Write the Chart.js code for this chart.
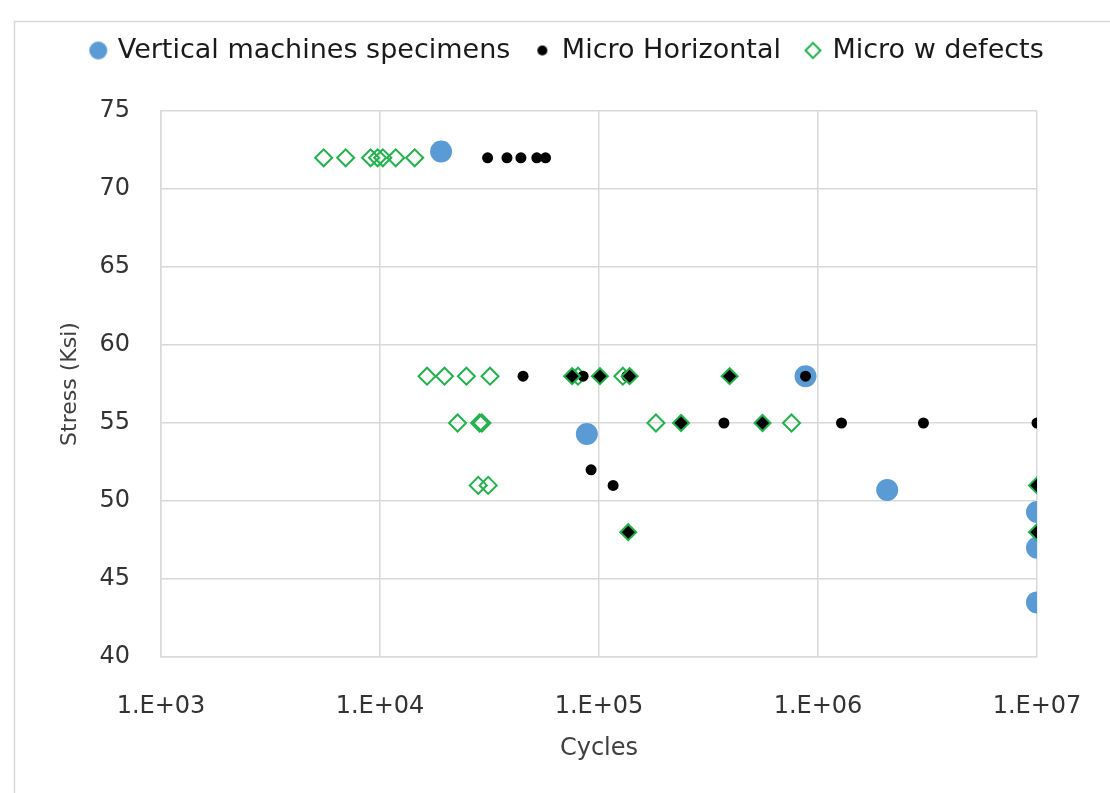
<!DOCTYPE html>
<html>
<head>
<meta charset="utf-8">
<script src="https://cdn.jsdelivr.net/npm/chart.js@4.4.1/dist/chart.umd.min.js"></script>
<style>
  html, body { margin: 0; padding: 0; background: #fff; }
  #wrap { width: 1110px; height: 793px; }
</style>
</head>
<body>
<div id="wrap"><canvas id="snChart" width="1110" height="793"></canvas></div>
<script>
// Vertical machines specimens
const verticalX = [19000, 88000, 877000, 2070000, 10000000, 10000000, 10000000];
const verticalY = [72.4, 54.3, 58.0, 50.7, 49.3, 47.0, 43.5];

// Micro Horizontal
const horizX = [31000, 38000, 44000, 52000, 57000, 45000, 84600, 134000, 877000, 92000, 116000, 372000, 1280000, 3030000, 10000000];
const horizY = [72, 72, 72, 72, 72, 58, 58, 58, 58, 52, 51, 55, 55, 55, 55];

// Micro w defects (open markers)
const defectsX = [5530, 6970, 9060, 9750, 10300, 11800, 14400,
                  16400, 19700, 24800, 31800, 80200, 128500,
                  22600, 28500, 29200, 182000, 757000,
                  28100, 31200];
const defectsY = [72, 72, 72, 72, 72, 72, 72,
                  58, 58, 58, 58, 58, 58,
                  55, 55, 55, 55, 55,
                  51, 51];

// Micro w defects (markers drawn filled)
const defectsFilledX = [75400, 101000, 138000, 395000, 237000, 558000, 136000, 10000000, 10000000];
const defectsFilledY = [58, 58, 58, 58, 55, 55, 48, 51, 48];

const xTickValues = [1e3, 1e4, 1e5, 1e6, 1e7];
const xTickLabels = ['1.E+03', '1.E+04', '1.E+05', '1.E+06', '1.E+07'];

const toPoints = (xs, ys) => xs.map((x, i) => ({ x: x, y: ys[i] }));

const BLUE = '#5b9bd5';
const GREEN = '#22b14c';
const FONT = 'DejaVu Sans';

// small canvases so legend markers keep their own sizes
function legendMarker(style, radius, fill, stroke, lw) {
  const c = document.createElement('canvas');
  c.width = 24; c.height = 24;
  const ctx = c.getContext('2d');
  ctx.fillStyle = fill;
  ctx.strokeStyle = stroke;
  ctx.lineWidth = lw;
  Chart.helpers.drawPoint(ctx, { pointStyle: style, radius: radius, rotation: 0, borderWidth: lw }, 12, 12);
  return c;
}

const frame = {
  id: 'frame',
  beforeDraw(chart) {
    const ctx = chart.ctx;
    ctx.save();
    ctx.fillStyle = '#fff';
    ctx.fillRect(0, 0, chart.width, chart.height);
    ctx.strokeStyle = '#d9d9d9';
    ctx.lineWidth = 1.5;
    ctx.beginPath();
    ctx.moveTo(14.5, chart.height);
    ctx.lineTo(14.5, 21.5);
    ctx.lineTo(chart.width, 21.5);
    ctx.stroke();
    ctx.restore();
  }
};

const ctx = document.getElementById('snChart').getContext('2d');
new Chart(ctx, {
  type: 'scatter',
  data: {
    datasets: [
      {
        label: 'Vertical machines specimens',
        data: toPoints(verticalX, verticalY),
        pointStyle: 'circle',
        pointRadius: 11,
        backgroundColor: BLUE,
        borderColor: BLUE,
        borderWidth: 0,
        order: 3
      },
      {
        label: 'Micro Horizontal',
        data: toPoints(horizX, horizY),
        pointStyle: 'circle',
        pointRadius: 5.5,
        backgroundColor: '#000',
        borderColor: '#000',
        borderWidth: 0,
        order: 1
      },
      {
        label: 'Micro w defects',
        data: toPoints(defectsX, defectsY),
        pointStyle: 'rectRot',
        pointRadius: 8.5,
        backgroundColor: 'rgba(0,0,0,0)',
        borderColor: GREEN,
        borderWidth: 2,
        order: 2
      },
      {
        label: 'filled',
        data: toPoints(defectsFilledX, defectsFilledY),
        pointStyle: 'rectRot',
        pointRadius: 8,
        backgroundColor: '#000',
        borderColor: GREEN,
        borderWidth: 2,
        order: 0
      }
    ]
  },
  options: {
    responsive: false,
    animation: false,
    events: [],
    layout: { padding: { left: 26, right: 0, top: 11, bottom: 20 } },
    plugins: {
      tooltip: { enabled: false },
      // blank spacer between legend and plot area
      title: {
        display: true,
        text: ' ',
        weight: 500,
        font: { size: 10 },
        padding: { top: 0, bottom: 25 }
      },
      legend: {
        display: true,
        position: 'top',
        labels: {
          usePointStyle: true,
          boxWidth: 12,
          boxHeight: 12,
          padding: 26,
          color: '#1a1a1a',
          font: { family: FONT, size: 27 },
          sort: (a, b) => a.datasetIndex - b.datasetIndex,
          filter: item => item.datasetIndex < 3,
          generateLabels(chart) {
            const items = Chart.defaults.plugins.legend.labels.generateLabels(chart);
            const markers = [
              legendMarker('circle', 9, BLUE, BLUE, 0),
              legendMarker('circle', 5, '#000', '#000', 0),
              legendMarker('rectRot', 7.5, 'rgba(0,0,0,0)', GREEN, 2)
            ];
            items.forEach(it => {
              if (markers[it.datasetIndex]) it.pointStyle = markers[it.datasetIndex];
            });
            return items;
          }
        }
      }
    },
    scales: {
      x: {
        type: 'logarithmic',
        min: 1000,
        max: 10000000,
        afterBuildTicks: scale => { scale.ticks = xTickValues.map(v => ({ value: v })); },
        afterFit: scale => { scale.height = 793 - 657 - 20; },
        ticks: {
          color: '#333',
          font: { family: FONT, size: 24 },
          padding: 0,
          maxRotation: 0,
          autoSkip: false,
          callback: value => {
            const i = xTickValues.indexOf(value);
            return i >= 0 ? xTickLabels[i] : '';
          }
        },
        // invisible tick marks push the labels down without widening the side padding
        grid: { color: '#d9d9d9', lineWidth: 1.5, drawTicks: true, tickLength: 35, tickColor: 'rgba(0,0,0,0)' },
        border: { color: '#d9d9d9', width: 1.5 },
        title: {
          display: true,
          text: 'Cycles',
          color: '#404040',
          font: { family: FONT, size: 24 },
          padding: { top: 14, bottom: 10 }
        }
      },
      y: {
        min: 40,
        max: 75,
        afterFit: scale => { scale.width = 161 - 26; },
        ticks: {
          stepSize: 5,
          color: '#333',
          font: { family: FONT, size: 24 },
          padding: 31
        },
        grid: { color: '#d9d9d9', lineWidth: 1.5, drawTicks: false },
        border: { color: '#d9d9d9', width: 1.5 },
        title: {
          display: true,
          text: 'Stress (Ksi)',
          color: '#404040',
          font: { family: FONT, size: 22 },
          padding: { top: 31, bottom: 6 }
        }
      },
      // empty right-hand strip that keeps the plot area's right edge in place
      yRight: {
        position: 'right',
        display: true,
        afterFit: scale => { scale.width = 73; },
        ticks: { display: false },
        grid: { display: false, drawTicks: false },
        border: { display: false }
      }
    }
  },
  plugins: [frame]
});
</script>
</body>
</html>
